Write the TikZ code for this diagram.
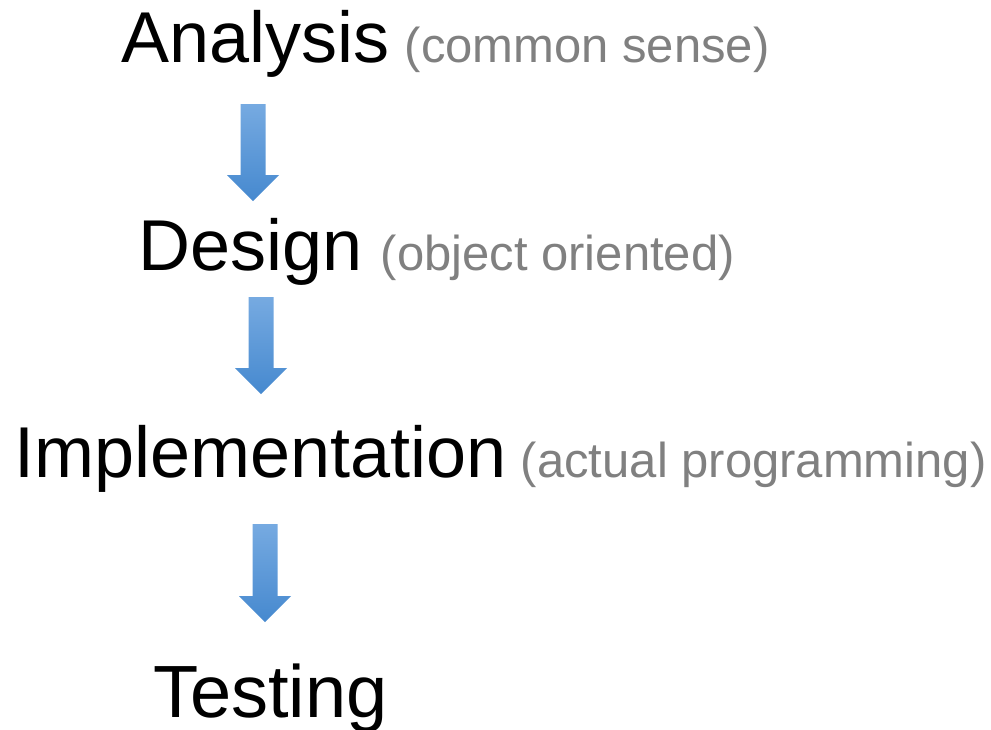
\documentclass[tikz,border=0pt]{standalone}
\usepackage{fontspec}
\setmainfont{Liberation Sans}
\usetikzlibrary{positioning}
\definecolor{notegray}{RGB}{128,128,128}
\definecolor{arrowtop}{RGB}{118,170,225}
\definecolor{arrowbottom}{RGB}{70,137,207}
\tikzset{
    stage/.style={inner sep=0pt, anchor=base west, font=\fontsize{72}{80}\selectfont},
    note/.style={inner sep=0pt, anchor=base west, text=notegray, font=\fontsize{49}{56}\selectfont},
    arrowfill/.style={top color=arrowtop, bottom color=arrowbottom, draw=none}
}
% block arrow: x of centre, top of shaft, tip
\newcommand{\flowarrow}[3]{%
    \shade[arrowfill]
        (#1-12.5,#2) -- (#1+12.5,#2) -- (#1+12.5,#3-26) -- (#1+26,#3-26)
        -- (#1,#3) -- (#1-26,#3-26) -- (#1-12.5,#3-26) -- cycle;
}

\begin{document}
\begin{tikzpicture}[x=1pt, y=-1pt]
    \useasboundingbox (0,0) rectangle (991,729);
    \draw
        node[stage] (analysis) at (121, 62) {Analysis}
        node[stage] (design) at (138, 270) {Design}
        node[stage] (implementation) at (14, 477) {Implementation}
        node[stage, font=\fontsize{74}{80}\selectfont] (testing) at (153, 717) {Testing}
    ;
    \draw
        node[note] (analysisnote) at ([xshift=15pt]analysis.base east) {(common sense)}
        node[note] (designnote) at ([xshift=18pt]design.base east) {(object oriented)}
        node[note] (implementationnote) at ([xshift=14pt]implementation.base east) {(actual programming)}
    ;
    \flowarrow{253}{104}{201}
    \flowarrow{261}{297}{394}
    \flowarrow{265}{524}{622}
\end{tikzpicture}
\end{document}
